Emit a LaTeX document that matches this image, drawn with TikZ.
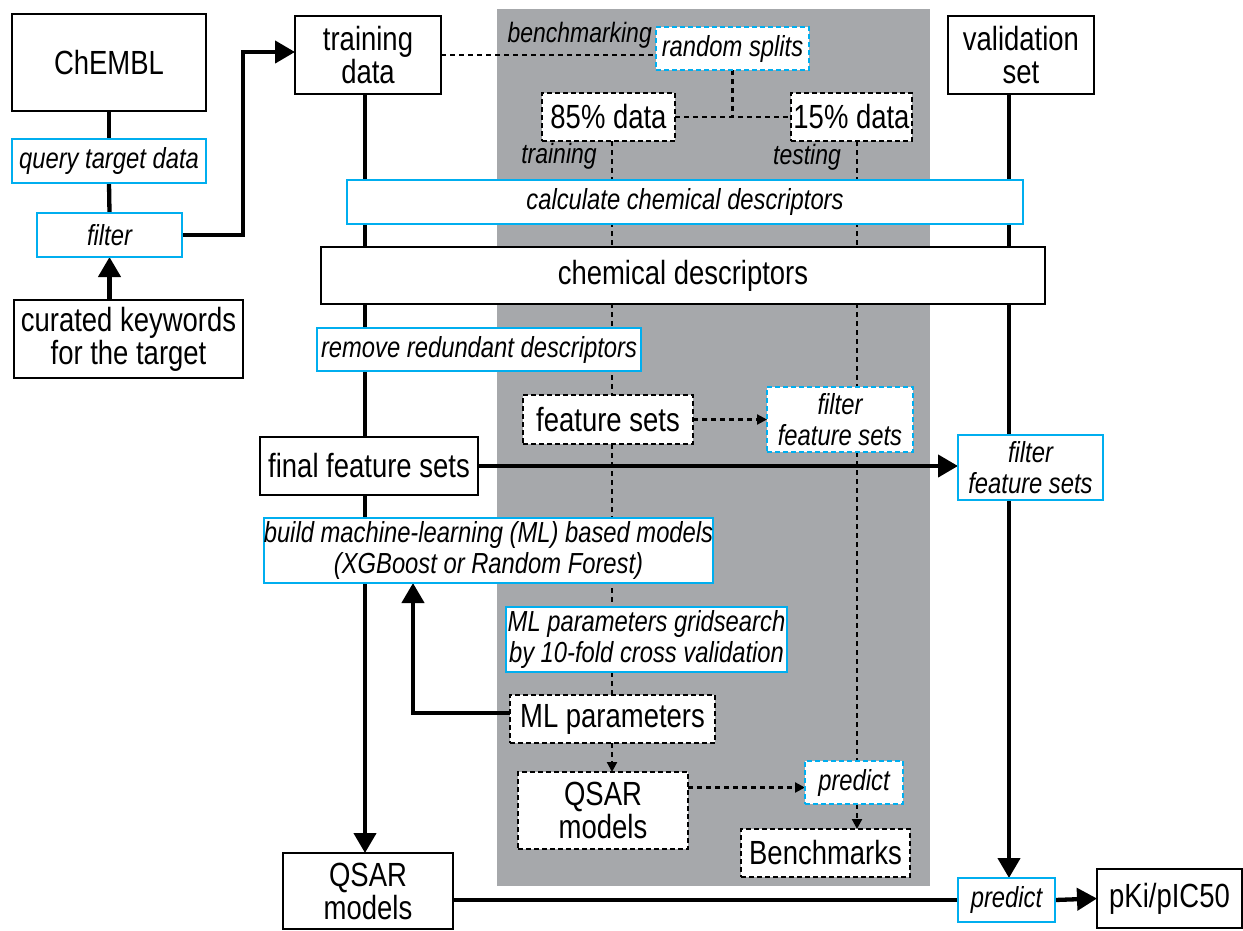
\documentclass[tikz,border=0pt]{standalone}
\usepackage{fontspec}
\setmainfont{Liberation Sans}[FakeStretch=0.82]
\usetikzlibrary{arrows.meta,calc}
\definecolor{cyanc}{RGB}{0,174,239}
\definecolor{panel}{RGB}{166,168,171}
\newcommand\mainsz{\fontsize{33.5}{33}\selectfont}
\newcommand\itsz{\fontsize{29}{31}\selectfont\itshape}
\newcommand\lblsz{\fontsize{28}{30}\selectfont\itshape}
\pgfdeclarelayer{bg}
\pgfdeclarelayer{lines}
\pgfsetlayers{bg,lines,main}
\tikzset{
  base/.style={inner sep=0pt, outer sep=0pt, align=center, fill=white},
  bbox/.style={base, draw=black, line width=2pt, font=\mainsz},
  cbox/.style={base, draw=cyanc, line width=2.5pt, font=\itsz},
  dbbox/.style={bbox, dash pattern=on 5pt off 3pt, line width=2pt},
  dcbox/.style={cbox, dash pattern=on 5pt off 3pt, line width=2pt},
  lbl/.style={inner sep=0pt, font=\lblsz},
  conn/.style={line width=4.3pt},
  arr/.style={conn, -{Triangle[length=20pt,width=22pt]}},
  dconn/.style={line width=2.2pt, dash pattern=on 5pt off 4pt},
  darr/.style={dconn, -{Triangle[length=10pt,width=10pt]}},
}
\begin{document}
\begin{tikzpicture}[x=1pt,y=-1pt]
\useasboundingbox (0,0) rectangle (1243,930);
\begin{pgfonlayer}{bg}
  \fill[panel] (497,9) rectangle (930,886);
\end{pgfonlayer}

% nodes
\node[bbox, minimum width=194pt, minimum height=97pt] (chembl) at (109,62.5) {ChEMBL};
\node[cbox, minimum width=194pt, minimum height=44pt] (query) at (109,161) {query target data};
\node[cbox, minimum width=145pt, minimum height=44pt] (filt) at (109.5,235) {filter};
\node[bbox, minimum width=229pt, minimum height=78pt] (curated) at (128.5,339) {curated keywords\\for the target};
\node[bbox, minimum width=146pt, minimum height=78pt] (train) at (368,55) {training\\data};
\node[bbox, minimum width=146pt, minimum height=78pt] (valid) at (1021,55) {validation\\set};
\node[dcbox, minimum width=153pt, minimum height=43pt] (rsplit) at (732.5,48.5) {random splits};
\node[dbbox, minimum width=133pt, minimum height=48pt] (p85) at (608.5,117) {85\% data};
\node[dbbox, minimum width=121pt, minimum height=48pt] (p15) at (851.5,117) {15\% data};
\node[cbox, minimum width=676pt, minimum height=44pt] (calc) at (685,202) {calculate chemical descriptors};
\node[bbox, minimum width=724pt, minimum height=57pt] (chemdesc) at (683,275.5) {chemical descriptors};
\node[cbox, minimum width=324pt, minimum height=43pt] (remred) at (479,349.5) {remove redundant descriptors};
\node[dbbox, minimum width=170pt, minimum height=49pt] (fsets) at (608,419.5) {feature sets};
\node[dcbox, minimum width=146pt, minimum height=65pt] (ffs1) at (840,419.5) {filter\\feature sets};
\node[bbox, minimum width=218pt, minimum height=58pt] (final) at (369,466) {final feature sets};
\node[cbox, minimum width=145pt, minimum height=65pt] (ffs2) at (1030.5,467.5) {filter\\feature sets};
\node[cbox, minimum width=445pt, minimum height=65pt] (build) at (488.5,550.5) {build machine-learning (ML) based models\\(XGBoost or Random Forest)};
\node[cbox, minimum width=281pt, minimum height=65pt] (grid) at (646.5,639.5) {ML parameters gridsearch\\by 10-fold cross validation};
\node[dbbox, minimum width=205pt, minimum height=48pt] (mlp) at (612.5,719) {ML parameters};
\node[dbbox, minimum width=170pt, minimum height=77pt] (qsar1) at (603,810.5) {QSAR\\models};
\node[dcbox, minimum width=98pt, minimum height=43pt] (pred1) at (854,782.5) {predict};
\node[dbbox, minimum width=169pt, minimum height=48pt] (bench) at (825.5,853) {Benchmarks};
\node[bbox, minimum width=170pt, minimum height=76pt] (qsar2) at (368,891) {QSAR\\models};
\node[cbox, minimum width=97pt, minimum height=44pt] (pred2) at (1006.5,900) {predict};
\node[bbox, minimum width=145pt, minimum height=59pt] (pki) at (1169.5,898.5) {pKi/pIC50};

% free labels
\node[lbl, anchor=east] (lbench) at (652,35) {benchmarking};
\node[lbl] (ltrain) at (559,156) {training};
\node[lbl] (ltest) at (807,157) {testing};

% helper coordinates
\coordinate (x365) at (365,0);
\coordinate (x413) at (413,0);
\coordinate (x612) at (612,0);
\coordinate (x857) at (857,0);
\coordinate (x1009) at (1009,0);
\coordinate (bend1) at (243,235);

\begin{pgfonlayer}{lines}
  % left column
  \draw[conn] (chembl.south) -- (query.north);
  \draw[conn] (query.south) -- (filt.north);
  \draw[arr] (filt.south |- curated.north) -- (filt.south);
  \draw[arr] (filt.east) -- (bend1) |- ([yshift=3pt]train.west);
  % main training line
  \draw[arr] (train.south -| x365) -- (qsar2.north -| x365);
  % validation line
  \draw[conn] (valid.south -| x1009) -- (ffs2.north -| x1009);
  \draw[arr] (ffs2.south -| x1009) -- (pred2.north -| x1009);
  % final feature sets to filter
  \draw[arr] (final.east) -- (final.east -| ffs2.west);
  % ML parameters back to build
  \draw[arr] ([yshift=6pt]mlp.west) -| (build.south -| x413);
  % bottom
  \draw[conn] (pred2.west -| qsar2.east) -- (pred2.west);
  \draw[arr] (pred2.east) -- (pki.west);
  % benchmarking branch
  \draw[dconn] (train.east) -- (train.east -| rsplit.west);
  \draw[dconn] (rsplit.south) -- (rsplit.south |- p85.east);
  \draw[dconn] (p85.east) -- (p15.west);
  \draw[dconn] (p85.south -| x612) -- (fsets.north -| x612);
  \draw[dconn] (fsets.south -| x612) -- (grid.north -| x612);
  \draw[dconn] (grid.south -| x612) -- (mlp.north -| x612);
  \draw[darr] (mlp.south -| x612) -- (qsar1.north -| x612);
  \draw[dconn] (p15.south -| x857) -- (ffs1.north -| x857);
  \draw[dconn] (ffs1.south -| x857) -- (pred1.north -| x857);
  \draw[darr] (pred1.south -| x857) -- (bench.north -| x857);
  \draw[darr] (fsets.east) -- (fsets.east -| ffs1.west);
  \draw[darr] ([yshift=-5pt]pred1.west -| qsar1.east) -- ([yshift=-5pt]pred1.west);
\end{pgfonlayer}
\end{tikzpicture}
\end{document}
